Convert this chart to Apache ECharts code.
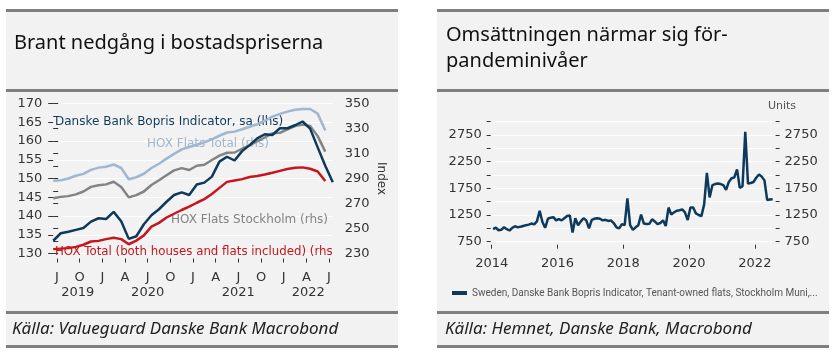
<!DOCTYPE html>
<html><head><meta charset="utf-8">
<script src="https://cdn.jsdelivr.net/npm/echarts@6/dist/echarts.min.js"></script>
<style>html,body{margin:0;padding:0;background:#fff}#c{width:838px;height:356px}</style>
</head><body><div id="c"></div>
<script>
// ---------- Left chart: monthly, Jun 2019 .. Jul 2022 ----------
const leftMonths = ['2019-06','2019-07','2019-08','2019-09','2019-10','2019-11','2019-12',
  '2020-01','2020-02','2020-03','2020-04','2020-05','2020-06','2020-07','2020-08','2020-09','2020-10','2020-11','2020-12',
  '2021-01','2021-02','2021-03','2021-04','2021-05','2021-06','2021-07','2021-08','2021-09','2021-10','2021-11','2021-12',
  '2022-01','2022-02','2022-03','2022-04','2022-05','2022-06','2022-07'];
const boprisIndicator = [133.4,135.4,135.8,136.3,136.8,138.5,139.4,139.2,141.1,138.6,133.9,134.6,137.8,140.2,141.8,143.8,145.6,146.3,145.6,148.4,148.9,150.5,154.5,155.8,154.8,157.3,158.9,160.7,161.8,161.6,163.4,163.4,164.2,165.2,163.3,158.3,153.4,149.0];
const hoxFlatsTotal = [288.2,288.6,290,292.2,293.7,296.9,298.7,299.4,301.2,298.4,289.4,291,293.8,298.4,301.8,305.9,309.7,313.3,315.2,317,319,321.3,324.2,326.8,327.5,329.4,331.4,333.4,336.2,339.5,341.7,343.5,345,345.6,345.6,341.9,328.5];
const hoxFlatsStockholm = [274.2,275.3,275.9,277.3,279.6,283.3,284.6,285.3,287.4,283.2,274.9,276.7,279.6,284.8,288.6,292.6,296.5,298.3,296.8,300.2,301,304.8,308.3,310.6,310.8,313.8,316.5,319.8,322.8,326.1,326.5,329.4,331.9,333.1,332.1,323.9,311.5];
const hoxTotal = [233.5,233.9,234.3,235.3,237,239.6,240.1,241.5,242.6,241.5,237.4,240.3,244.5,251.5,254.5,258.8,261.8,264.8,267.5,270.6,273.5,277.6,282.5,287.3,288.4,289.5,291.2,292,293.2,294.6,296.1,297.6,298.6,298.9,297.8,295.6,288];
const quarterTickMonths = ['2019-07','2019-10','2020-01','2020-04','2020-07','2020-10','2021-01','2021-04','2021-07','2021-10','2022-01','2022-04','2022-07'];
const quarterTickLabels = ['J','O','J','A','J','O','J','A','J','O','J','A','J'];
const leftYears = ['2019','2020','2021','2022'];
const leftSeriesNames = ['Danske Bank Bopris Indicator, sa (lhs)','HOX Flats Total (rhs)','HOX Flats Stockholm (rhs)','HOX Total (both houses and flats included) (rhs'];

// ---------- Right chart: monthly, Jan 2014 .. Jul 2022 ----------
const omsattning = [985,1015,965,975,1020,985,960,1010,1040,1020,1030,1045,
  1060,1070,1090,1075,1130,1330,1120,1010,1180,1200,1210,1150,
  1175,1150,1190,1230,1240,920,1190,1060,1130,1190,1150,1000,
  1160,1180,1190,1180,1150,1160,1140,1150,1100,1020,1000,1080,
  1060,1560,1060,970,1020,1060,1260,1090,1080,1085,1170,1130,
  1080,1100,1150,1045,1390,1260,1300,1330,1340,1355,1300,1155,
  1390,1390,1280,1250,1230,1450,2040,1580,1810,1830,1840,1830,
  1810,1720,1870,1940,1955,2105,1760,1790,2810,1840,1850,1870,
  1950,2010,1970,1900,1530,1540,1545];
const rightStartYear = 2014;
const rightYearTicks = [2014,2016,2018,2020,2022];
const rightTickLabels = [750,1250,1750,2250,2750];
const rightSeriesName = 'Sweden, Danske Bank Bopris Indicator, Tenant-owned flats, Stockholm Muni,...';

// ---------- helpers ----------
function monthIdx(ym){const [y,m]=ym.split('-').map(Number);return (y-2019)*12+(m-6);} // Jun 2019 = 0
const leftPos = leftMonths.map(monthIdx);
const LMIN = 0, LMAX = leftPos[leftPos.length-1];
const quarterPos = quarterTickMonths.map(m=>monthIdx(m)-0.5);
const yearPos = leftYears.map(y=>{
  const s = Math.max(LMIN, monthIdx(y+'-01')-0.5), e = Math.min(LMAX, monthIdx(y+'-12')+0.5);
  return (s+e)/2;
});
function pairs(arr){return arr.map((v,i)=>[leftPos[i],v]);}
const rightData = omsattning.map((v,i)=>[rightStartYear+(i+0.5)/12, v]);

const FONT = 'DejaVu Sans';
const DARK='#0d3a5c', LIGHT='#9fb7d0', GRAY='#838383', RED='#c4161c', AX='#333';
const BG='#f2f2f2', RULE='#7f7f7f';

function rule(x,y,w){return {type:'rect',shape:{x:x,y:y,width:w,height:3},style:{fill:RULE},z:-5};}
function txt(x,y,text,o){return Object.assign({type:'text',x:x,y:y,z:1,style:Object.assign({text:text,font:'13px '+FONT,fill:AX,textVerticalAlign:'middle'},o||{})});}

const chart = echarts.init(document.getElementById('c'), null, {width:838,height:356});
chart.setOption({
  animation:false,
  backgroundColor:'#fff',
  graphic:[
    {type:'rect',shape:{x:6,y:10,width:392,height:337},style:{fill:BG},z:-10},
    {type:'rect',shape:{x:437,y:10,width:392,height:337},style:{fill:BG},z:-10},
    rule(6,9,392), rule(6,89,392), rule(6,311,392), rule(6,345,392),
    rule(437,9,392), rule(437,89,392), rule(437,311,392), rule(437,345,392),
    txt(14,43,'Brant nedgång i bostadspriserna',{font:'20px "Noto Sans"',fill:'#111'}),
    txt(446,35,'Omsättningen närmar sig för-',{font:'20px "Noto Sans"',fill:'#111'}),
    txt(446,61,'pandeminivåer',{font:'20px "Noto Sans"',fill:'#111'}),
    txt(12,329,'Källa: Valueguard Danske Bank Macrobond',{font:'italic 17px "Noto Sans"',fill:'#222'}),
    txt(445,329,'Källa: Hemnet, Danske Bank, Macrobond',{font:'italic 17px "Noto Sans"',fill:'#222'}),
    txt(55,122,leftSeriesNames[0],{font:'12px '+FONT,fill:DARK}),
    txt(147,144,leftSeriesNames[1],{font:'12px '+FONT,fill:LIGHT}),
    txt(171,220,leftSeriesNames[2],{font:'12px '+FONT,fill:GRAY}),
    txt(55,252,leftSeriesNames[3],{font:'11.8px '+FONT,fill:RED}),
    txt(782,106,'Units',{font:'11px '+FONT,fill:'#555',textAlign:'center'})
  ],
  legend:{show:true,data:[rightSeriesName],left:447,top:283,itemWidth:15,itemHeight:4,icon:'rect',
    textStyle:{fontFamily:'Roboto',fontSize:10,color:'#555'}},
  grid:[
    {left:53.2,right:838-332.8,top:103.5,bottom:356-253.5},
    {left:491.7,right:838-774.6,top:121.7,bottom:356-241.7}
  ],
  xAxis:[
    {type:'value',gridIndex:0,min:LMIN,max:LMAX,offset:5,position:'bottom',
      axisLine:{show:false},splitLine:{show:false},
      axisTick:{show:true,length:4,customValues:quarterPos,lineStyle:{color:AX}},
      axisLabel:{customValues:quarterPos,margin:13,fontFamily:FONT,fontSize:13,color:AX,
        formatter:v=>{const i=quarterPos.findIndex(p=>Math.abs(p-v)<1e-6);return i>=0?quarterTickLabels[i]:'';}}},
    {type:'value',gridIndex:0,min:LMIN,max:LMAX,offset:5,position:'bottom',
      axisLine:{show:false},splitLine:{show:false},axisTick:{show:false},
      axisLabel:{customValues:yearPos,margin:28,fontFamily:FONT,fontSize:13,color:AX,
        formatter:v=>{const i=yearPos.findIndex(p=>Math.abs(p-v)<1e-6);return i>=0?leftYears[i]:'';}}},
    {type:'value',gridIndex:1,min:2014,max:2022.6,offset:3,position:'bottom',
      axisLine:{show:false},splitLine:{show:false},
      axisTick:{show:true,length:4,customValues:rightYearTicks,lineStyle:{color:AX}},
      axisLabel:{customValues:rightYearTicks,margin:12,fontFamily:FONT,fontSize:13,color:AX,formatter:v=>String(v)}}
  ],
  yAxis:[
    {type:'value',gridIndex:0,min:130,max:170,interval:5,position:'left',offset:3,
      axisLine:{show:false},axisTick:{show:true,length:5,lineStyle:{color:AX}},
      axisLabel:{margin:8,fontFamily:FONT,fontSize:13,color:AX},
      splitLine:{show:true,lineStyle:{color:'#fff',width:1}}},
    {type:'value',gridIndex:0,min:230,max:350,interval:20,position:'right',offset:2,
      name:'Index',nameLocation:'middle',nameRotate:-90,nameGap:40,
      nameTextStyle:{fontFamily:FONT,fontSize:12,color:AX},
      axisLine:{show:false},axisTick:{show:true,length:5,lineStyle:{color:AX}},
      minorTick:{show:true,splitNumber:2,length:5,lineStyle:{color:AX}},
      axisLabel:{margin:10,fontFamily:FONT,fontSize:13,color:AX},
      splitLine:{show:false}},
    {type:'value',gridIndex:1,min:750,max:3000,interval:250,position:'left',offset:1,
      axisLine:{show:false},axisTick:{show:true,length:4,lineStyle:{color:AX}},
      axisLabel:{margin:9,fontFamily:FONT,fontSize:13,color:AX,
        formatter:v=>rightTickLabels.includes(v)?String(v):''},
      splitLine:{show:true,lineStyle:{color:'#fff',width:1}}},
    {type:'value',gridIndex:1,min:750,max:3000,interval:250,position:'right',offset:1,
      axisLine:{show:false},axisTick:{show:true,length:4,lineStyle:{color:AX}},
      axisLabel:{margin:9,fontFamily:FONT,fontSize:13,color:AX,
        formatter:v=>rightTickLabels.includes(v)?String(v):''},
      splitLine:{show:false}}
  ],
  series:[
    {name:leftSeriesNames[1],type:'line',xAxisIndex:0,yAxisIndex:1,data:pairs(hoxFlatsTotal),showSymbol:false,lineStyle:{color:LIGHT,width:2.5},itemStyle:{color:LIGHT}},
    {name:leftSeriesNames[2],type:'line',xAxisIndex:0,yAxisIndex:1,data:pairs(hoxFlatsStockholm),showSymbol:false,lineStyle:{color:GRAY,width:2.5},itemStyle:{color:GRAY}},
    {name:leftSeriesNames[3],type:'line',xAxisIndex:0,yAxisIndex:1,data:pairs(hoxTotal),showSymbol:false,lineStyle:{color:RED,width:2.5},itemStyle:{color:RED}},
    {name:leftSeriesNames[0],type:'line',xAxisIndex:0,yAxisIndex:0,data:pairs(boprisIndicator),showSymbol:false,lineStyle:{color:DARK,width:2.5},itemStyle:{color:DARK}},
    {name:rightSeriesName,type:'line',xAxisIndex:2,yAxisIndex:2,data:rightData,showSymbol:false,lineStyle:{color:DARK,width:2.5},itemStyle:{color:DARK}}
  ]
});
</script></body></html>
